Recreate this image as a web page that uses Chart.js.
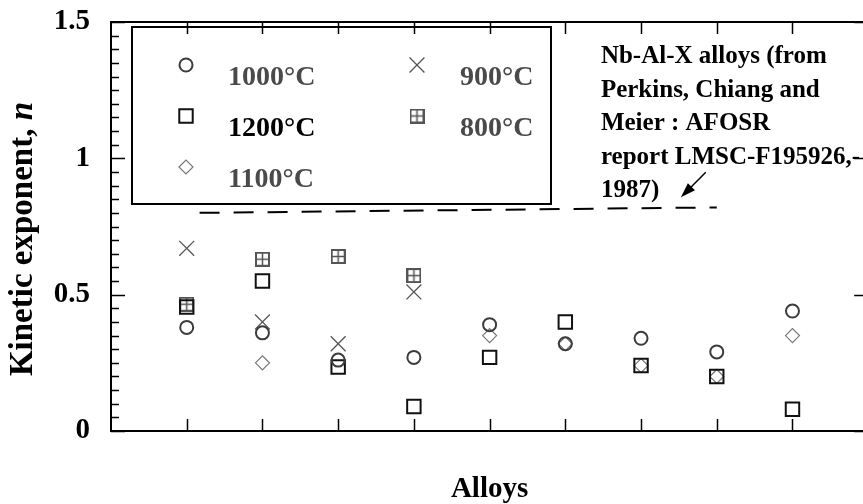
<!DOCTYPE html>
<html>
<head>
<meta charset="utf-8">
<title>Kinetic exponent of Nb-Al-X alloys</title>
<script src="https://cdn.jsdelivr.net/npm/chart.js@4.4.1/dist/chart.umd.min.js"></script>
<style>
  html, body { margin: 0; padding: 0; background: #fff; overflow: hidden; }
  #wrap { width: 880px; height: 504px; }
</style>
</head>
<body>
<div id="wrap"><canvas id="chart" width="880" height="504"></canvas></div>
<script>
// data
const alloyPos = [1, 2, 3, 4, 5, 6, 7, 8, 9];
const n1000 = [0.38, 0.36, 0.26, 0.27, 0.39, 0.32, 0.34, 0.29, 0.44];
const n1200 = [0.455, 0.55, 0.235, 0.09, 0.27, 0.40, 0.24, 0.20, 0.08];
const n1100 = [null, 0.25, null, null, 0.35, 0.32, 0.24, 0.20, 0.35];
const n900 = [0.67, 0.40, 0.32, 0.51, null, null, null, null, null];
const n800 = [0.465, 0.63, 0.64, 0.57, null, null, null, null, null];
const seriesLabels = ['1000°C', '1200°C', '1100°C', '900°C', '800°C'];
const yTickLabels = ['0', '0.5', '1', '1.5'];
const yTickValues = [0, 0.5, 1, 1.5];
// Perkins et al. level (dashed line) and note
const refX = [1.17, 8.0];
const refY = [0.80, 0.82];
const noteLines = ['Nb-Al-X alloys (from', 'Perkins, Chiang and', 'Meier : AFOSR', 'report LMSC-F195926,-', '1987)'];

const serif = '"Liberation Serif", "Times New Roman", serif';

function pts(vals) {
    return alloyPos.map((x, i) => ({ x: x, y: vals[i] })).filter(p => p.y !== null);
}

// square with a cross inside, for 800°C
function boxPlus(size, color) {
    const c = document.createElement('canvas');
    c.width = size; c.height = size;
    const g = c.getContext('2d');
    g.strokeStyle = color;
    g.lineWidth = 2;
    g.strokeRect(1, 1, size - 2, size - 2);
    g.lineWidth = 1.5;
    g.beginPath();
    g.moveTo(size / 2, 1); g.lineTo(size / 2, size - 1);
    g.moveTo(1, size / 2); g.lineTo(size - 1, size / 2);
    g.stroke();
    return c;
}

const clear = 'rgba(0,0,0,0)';
const styles = [
    { pointStyle: 'circle', radius: 6.5, color: '#3c3c3c', width: 2 },
    { pointStyle: 'rect', radius: 9.5, color: '#111', width: 2 },
    { pointStyle: 'rectRot', radius: 7, color: '#777', width: 1.2 },
    { pointStyle: 'crossRot', radius: 10.5, color: '#555', width: 1.3 },
    { pointStyle: boxPlus(15, '#555'), radius: 7, color: '#555', width: 1 }
];
const seriesData = [n1000, n1200, n1100, n900, n800];

const datasets = seriesData.map((vals, i) => ({
    label: seriesLabels[i],
    data: pts(vals),
    pointStyle: styles[i].pointStyle,
    pointRadius: styles[i].radius,
    pointBorderColor: styles[i].color,
    pointBackgroundColor: clear,
    pointBorderWidth: styles[i].width,
    showLine: false
}));

datasets.push({
    label: 'ref',
    data: refX.map((x, i) => ({ x: x, y: refY[i] })),
    showLine: true,
    borderColor: '#000',
    borderWidth: 2,
    borderDash: [20, 14],
    pointRadius: 0
});

function isMajor(v) {
    return yTickValues.some(t => Math.abs(t - v) < 1e-6);
}

const decorPlugin = {
    id: 'decor',
    afterDatasetsDraw(chart) {
        const { ctx, chartArea: a, scales: { x, y } } = chart;
        ctx.save();
        //frame
        ctx.strokeStyle = '#000';
        ctx.lineWidth = 2;
        ctx.strokeRect(a.left, a.top, a.right - a.left, a.bottom - a.top);
        //inward ticks
        ctx.lineWidth = 1.5;
        ctx.beginPath();
        y.ticks.forEach(t => {
            const py = Math.round(y.getPixelForValue(t.value)) + 0.5;
            const major = isMajor(t.value);
            ctx.moveTo(a.left, py); ctx.lineTo(a.left + (major ? 14 : 8), py);
            if (major) { ctx.moveTo(a.right, py); ctx.lineTo(a.right - 14, py); }
        });
        x.ticks.forEach(t => {
            if (t.value <= x.min || t.value >= x.max) return;
            const px = Math.round(x.getPixelForValue(t.value)) + 0.5;
            ctx.moveTo(px, a.bottom); ctx.lineTo(px, a.bottom - 12);
            ctx.moveTo(px, a.top); ctx.lineTo(px, a.top + 12);
        });
        ctx.stroke();

        //legend box
        const bx = a.left + 21, by = a.top + 5, bw = 419, bh = 177;
        ctx.lineWidth = 2;
        ctx.strokeRect(bx, by, bw, bh);
        const cells = [[0, 0, 0], [1, 0, 1], [2, 0, 2], [3, 1, 0], [4, 1, 1]];
        ctx.font = 'bold 28px ' + serif;
        ctx.textBaseline = 'alphabetic';
        ctx.textAlign = 'left';
        cells.forEach(([i, col, row]) => {
            const mx = bx + (col ? 285 : 54);
            const tx = bx + (col ? 328 : 96);
            const my = by + 38 + row * 51;
            const s = styles[i];
            ctx.strokeStyle = s.color;
            ctx.fillStyle = clear;
            ctx.lineWidth = s.width;
            Chart.helpers.drawPoint(ctx, { pointStyle: s.pointStyle, radius: s.radius, rotation: 0, borderWidth: s.width }, mx, my);
            ctx.fillStyle = i === 1 ? '#000' : '#4a4a4a';
            ctx.fillText(seriesLabels[i], tx, my + 20);
        });

        //note text
        ctx.fillStyle = '#000';
        ctx.font = 'bold 25px ' + serif;
        const nx = x.getPixelForValue(6.47);
        noteLines.forEach((line, i) => {
            ctx.fillText(line, nx, a.top + 41 + i * 33.5);
        });

        //arrow to dashed line
        const x1 = x.getPixelForValue(7.855), y1 = y.getPixelForValue(0.949);
        const x2 = x.getPixelForValue(7.526), y2 = y.getPixelForValue(0.857);
        const ang = Math.atan2(y2 - y1, x2 - x1);
        ctx.strokeStyle = '#000';
        ctx.lineWidth = 1.5;
        ctx.beginPath();
        ctx.moveTo(x1, y1);
        ctx.lineTo(x2 - 10 * Math.cos(ang), y2 - 10 * Math.sin(ang));
        ctx.stroke();
        ctx.beginPath();
        ctx.moveTo(x2, y2);
        ctx.lineTo(x2 - 15 * Math.cos(ang) + 5 * Math.sin(ang), y2 - 15 * Math.sin(ang) - 5 * Math.cos(ang));
        ctx.lineTo(x2 - 15 * Math.cos(ang) - 5 * Math.sin(ang), y2 - 15 * Math.sin(ang) + 5 * Math.cos(ang));
        ctx.closePath();
        ctx.fill();

        //y axis title with italic n
        const main = 'Kinetic exponent, ';
        ctx.font = 'bold 33px ' + serif;
        const w1 = ctx.measureText(main).width;
        ctx.font = 'italic bold 33px ' + serif;
        const w2 = ctx.measureText('n').width;
        ctx.translate(32, a.top + 80);
        ctx.rotate(-Math.PI / 2);
        ctx.font = 'bold 33px ' + serif;
        ctx.fillText(main, -(w1 + w2), 0);
        ctx.font = 'italic bold 33px ' + serif;
        ctx.fillText('n', -w2, 0);
        ctx.restore();
    }
};

const ctx = document.getElementById('chart');
new Chart(ctx, {
    type: 'scatter',
    data: { datasets: datasets },
    options: {
        responsive: false,
        animation: false,
        devicePixelRatio: 1,
        layout: { padding: { top: 22, right: 9, bottom: 0, left: 0 } },
        plugins: {
            legend: { display: false },
            tooltip: { enabled: false }
        },
        scales: {
            x: {
                type: 'linear',
                min: 0,
                max: 10,
                ticks: { stepSize: 1, display: false },
                grid: { display: false, drawTicks: false },
                border: { display: false },
                title: {
                    display: true,
                    text: 'Alloys',
                    color: '#000',
                    font: { family: serif, size: 29, weight: 'bold' },
                    padding: { top: 0, bottom: -3 }
                },
                afterFit(scale) {
                    scale.height = 73;
                    scale.paddingLeft = 0; scale.paddingRight = 0;
                }
            },
            y: {
                min: 0,
                max: 1.5,
                ticks: {
                    stepSize: 0.05,
                    autoSkip: false,
                    padding: 21,
                    color: '#000',
                    font: { family: serif, size: 29, weight: 'bold' },
                    callback: function(v) {
                        const k = yTickValues.findIndex(t => Math.abs(t - v) < 1e-6);
                        return k >= 0 ? yTickLabels[k] : '';
                    }
                },
                grid: { display: false, drawTicks: false },
                border: { display: false },
                afterFit(scale) {
                    scale.width = 111;
                    scale.paddingTop = 0; scale.paddingBottom = 0;
                }
            }
        }
    },
    plugins: [decorPlugin]
});
</script>
</body>
</html>
